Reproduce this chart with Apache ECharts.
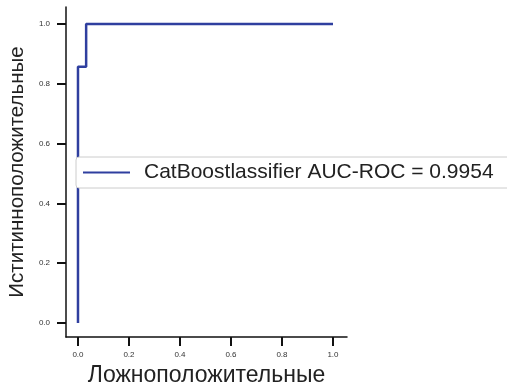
<!DOCTYPE html>
<html>
<head>
<meta charset="utf-8">
<script src="https://cdn.jsdelivr.net/npm/echarts@6/dist/echarts.min.js"></script>
<style>
  html, body { margin: 0; padding: 0; background: #fff; }
  #chart { width: 507px; height: 387px; }
</style>
</head>
<body>
<div id="chart"></div>
<script>
// ROC curve points (false positive rate, true positive rate)
const fpr = [0.0, 0.0, 0.032, 0.032, 1.0];
const tpr = [0.0, 0.857, 0.857, 1.0, 1.0];
const tickValues = [0, 0.2, 0.4, 0.6, 0.8, 1.0];
const seriesName = 'CatBoostlassifier AUC-ROC = 0.9954';
const xTitle = 'Ложноположительные';
const yTitle = 'Иститинноположительные';

const chart = echarts.init(document.getElementById('chart'));
const fontFamily = 'Liberation Sans, Arial, sans-serif';

const axisCommon = {
  type: 'value',
  splitLine: { show: false },
  axisLine: { show: true, onZero: false, lineStyle: { color: '#111', width: 1.5 } },
  axisTick: { show: true, inside: false, length: 9, customValues: tickValues,
              lineStyle: { color: '#111', width: 2 } },
  axisLabel: { customValues: tickValues, fontSize: 8, color: '#333', fontFamily: fontFamily,
               formatter: v => v.toFixed(1) }
};

chart.setOption({
  animation: false,
  grid: { left: 66, top: 7, width: 281, height: 330, containLabel: false, outerBoundsMode: 'none' },
  xAxis: Object.assign({}, axisCommon, {
    min: -0.047, max: 1.055,
    axisLabel: Object.assign({}, axisCommon.axisLabel, { margin: 14 }),
    name: xTitle, nameLocation: 'middle', nameGap: 25,
    nameTextStyle: { fontSize: 23, color: '#222', fontFamily: fontFamily }
  }),
  yAxis: Object.assign({}, axisCommon, {
    min: -0.047, max: 1.057,
    axisLabel: Object.assign({}, axisCommon.axisLabel, { margin: 16 }),
    name: yTitle, nameLocation: 'middle', nameGap: 37, nameRotate: 90,
    nameTextStyle: { fontSize: 20.5, color: '#222', fontFamily: fontFamily }
  }),
  legend: {
    left: 76, top: 157,
    padding: [5, 30, 5, 7],
    backgroundColor: '#fff',
    borderColor: '#ccc', borderWidth: 1, borderRadius: 3,
    itemWidth: 47, itemHeight: 12, itemGap: 14,
    textStyle: { fontSize: 21, color: '#222', fontFamily: fontFamily, padding: [0, 0, 0, 9] },
    data: [{ name: seriesName, icon: 'path://M0,5 L47,5 L47,7 L0,7 Z' }]
  },
  series: [{
    name: seriesName,
    type: 'line',
    data: fpr.map((x, i) => [x, tpr[i]]),
    symbol: 'none',
    lineStyle: { color: '#2f3f9f', width: 2.5 },
    itemStyle: { color: '#2f3f9f' }
  }]
});
</script>
</body>
</html>
